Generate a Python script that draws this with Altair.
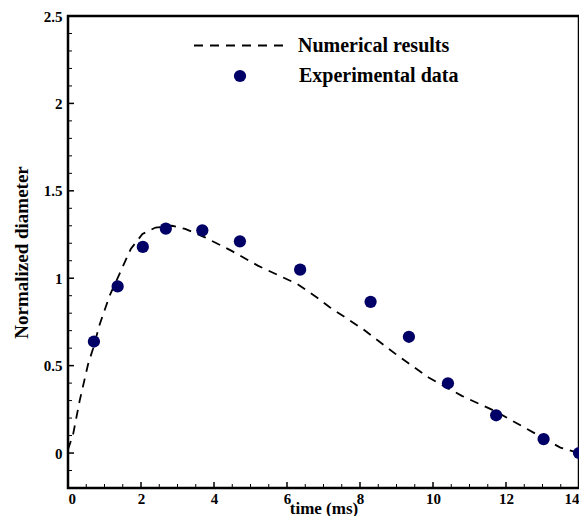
import altair as alt
import pandas as pd

# Numerical results (dashed curve)
curve_t = [0.0, 0.14, 0.32, 0.55, 0.69, 0.87, 1.14, 1.45, 1.72, 2.04, 2.40, 2.85, 3.21,
           3.75, 4.47, 5.20, 6.28, 6.82, 7.18, 8.08, 8.98, 9.88, 10.79, 11.69, 12.59, 13.49, 14.0]
curve_d = [0.02, 0.107, 0.30, 0.508, 0.60, 0.737, 0.90, 1.043, 1.167, 1.253, 1.29, 1.30, 1.282,
           1.234, 1.158, 1.072, 0.967, 0.89, 0.833, 0.709, 0.566, 0.432, 0.327, 0.241, 0.136, 0.031, 0.0]

# Experimental data (points)
exp_t = [0.71, 1.36, 2.05, 2.68, 3.68, 4.71, 6.36, 8.29, 9.34, 10.41, 11.73, 13.03, 14.0]
exp_d = [0.638, 0.953, 1.179, 1.284, 1.274, 1.211, 1.049, 0.865, 0.665, 0.399, 0.216, 0.080, 0.0]

# Tick positions
x_major = [0, 2, 4, 6, 8, 10, 12, 14]
x_minor = [0.5, 1, 1.5, 2.5, 3, 3.5, 4.5, 5, 5.5, 6.5, 7, 7.5, 8.5, 9, 9.5,
           10.5, 11, 11.5, 12.5, 13, 13.5]
y_major = [0, 0.5, 1, 1.5, 2, 2.5]
y_minor = [-0.1, 0.1, 0.2, 0.3, 0.4, 0.6, 0.7, 0.8, 0.9, 1.1, 1.2, 1.3, 1.4,
           1.6, 1.7, 1.8, 1.9, 2.1, 2.2, 2.3, 2.4]

W, H = 511, 472
FONT = "Liberation Serif"
NAVY = "#000066"

xscale = alt.Scale(domain=[0, 14], nice=False, zero=False)
yscale = alt.Scale(domain=[-0.2, 2.5], nice=False, zero=False)

xaxis = alt.Axis(values=x_major, format="~g", title="time (ms)", labelPadding=3,
                 titleBaseline="alphabetic", titleY=25, titleFontSize=17)
yaxis = alt.Axis(values=y_major, format="~g", title="Normalized diameter", labelPadding=6,
                 titlePadding=12)


def X(field):
    return alt.X(field, type="quantitative", scale=xscale, axis=xaxis)


def Y(field):
    return alt.Y(field, type="quantitative", scale=yscale, axis=yaxis)


curve_df = pd.DataFrame({"t": curve_t, "d": curve_d, "s": "Numerical results"})
exp_df = pd.DataFrame({"t": exp_t, "d": exp_d, "s": "Experimental data"})

legend_common = dict(title=None, orient="none", padding=0, labelFont=FONT, labelFontSize=20,
                     labelFontWeight="bold", labelColor="black")

line = alt.Chart(curve_df).mark_line(color="black", strokeWidth=1.8).encode(
    x=X("t"),
    y=Y("d"),
    strokeDash=alt.StrokeDash(
        "s:N",
        scale=alt.Scale(domain=["Numerical results"], range=[[9, 7]]),
        legend=alt.Legend(legendX=125, legendY=-16, symbolType="stroke", symbolSize=7921,
                          symbolStrokeWidth=1.8, symbolStrokeColor="black", labelOffset=14,
                          **legend_common),
    ),
)

points = alt.Chart(exp_df).mark_circle(size=150, opacity=1).encode(
    x=X("t"),
    y=Y("d"),
    color=alt.Color(
        "s:N",
        scale=alt.Scale(domain=["Experimental data"], range=[NAVY]),
        legend=alt.Legend(legendX=162, legendY=50, symbolType="circle", symbolSize=150,
                          symbolOpacity=1, labelOffset=49, **legend_common),
    ),
)

xmaj = alt.Chart(pd.DataFrame({"t": x_major})).mark_rule(color="black", strokeWidth=1.5).encode(
    x=X("t"), y=alt.value(H), y2=alt.value(H - 6))
xmin = alt.Chart(pd.DataFrame({"t": x_minor})).mark_rule(color="black", strokeWidth=1).encode(
    x=X("t"), y=alt.value(H), y2=alt.value(H - 4))
ymaj = alt.Chart(pd.DataFrame({"d": y_major})).mark_rule(color="black", strokeWidth=1.5).encode(
    y=Y("d"), x=alt.value(0), x2=alt.value(6))
ymin = alt.Chart(pd.DataFrame({"d": y_minor})).mark_rule(color="black", strokeWidth=1).encode(
    y=Y("d"), x=alt.value(0), x2=alt.value(4))

chart = alt.layer(xmin, xmaj, ymin, ymaj, line, points).properties(
    width=W, height=H,
    autosize=alt.AutoSizeParams(type="none"),
    padding={"left": 60, "top": 8, "right": 0, "bottom": 28},
).configure_view(
    stroke="black", strokeWidth=2.5
).configure_axis(
    labelFont=FONT, labelFontWeight="bold", labelFontSize=15, labelColor="black",
    titleFont=FONT, titleFontWeight="bold", titleFontSize=19, titleColor="black",
    grid=False, ticks=False, tickSize=0, domain=False,
)

chart.save("out.html", embed_options={"renderer": "svg", "actions": False})
